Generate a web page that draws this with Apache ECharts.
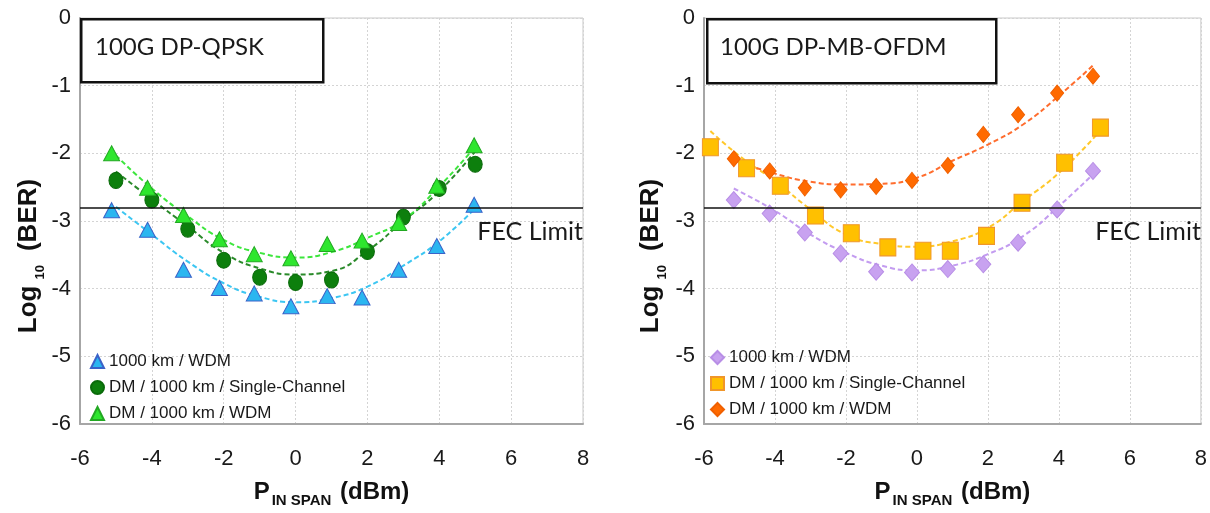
<!DOCTYPE html>
<html>
<head>
<meta charset="utf-8">
<script src="https://cdn.jsdelivr.net/npm/echarts@6/dist/echarts.min.js"></script>
<style>
html,body{margin:0;padding:0;background:#fff;}
#c{width:1210px;height:513px;}
</style>
</head>
<body>
<div id="c"></div>
<script>
// ---------- Data: left panel (100G DP-QPSK) ----------
const qpskWdmX   = [-5.12,-4.12,-3.12,-2.12,-1.15,-0.13,0.88,1.85,2.87,3.93,4.97];
const qpskWdmY   = [-2.84,-3.13,-3.72,-3.99,-4.07,-4.26,-4.11,-4.13,-3.72,-3.37,-2.76];
const qpskDmScX  = [-5,-4,-3,-2,-1,0,1,2,3,4,5];
const qpskDmScY  = [-2.40,-2.69,-3.12,-3.58,-3.83,-3.91,-3.87,-3.45,-2.94,-2.52,-2.16];
const qpskDmWdmX = [-5.12,-4.12,-3.12,-2.12,-1.15,-0.13,0.88,1.85,2.87,3.93,4.97];
const qpskDmWdmY = [-2.00,-2.51,-2.91,-3.27,-3.49,-3.55,-3.34,-3.29,-3.03,-2.48,-1.88];
// dashed trend lines
const qpskTrendX       = [-5,-4,-3,-2,-1,0,1,2,3,4,5];
const qpskWdmTrend     = [-2.79,-3.20,-3.60,-3.92,-4.12,-4.20,-4.14,-3.97,-3.66,-3.30,-2.81];
const qpskDmScTrend    = [-2.27,-2.68,-3.08,-3.47,-3.70,-3.79,-3.74,-3.44,-3.00,-2.56,-1.97];
const qpskDmWdmTrend   = [-2.03,-2.52,-2.93,-3.28,-3.47,-3.54,-3.46,-3.25,-2.98,-2.49,-1.90];

// ---------- Data: right panel (100G DP-MB-OFDM) ----------
const ofdmWdmX   = [-5.16,-4.15,-3.16,-2.15,-1.15,-0.14,0.87,1.87,2.85,3.95,4.96];
const ofdmWdmY   = [-2.69,-2.89,-3.17,-3.48,-3.75,-3.76,-3.71,-3.64,-3.32,-2.83,-2.26];
const ofdmDmScX  = [-5.82,-4.80,-3.85,-2.86,-1.85,-0.82,0.17,0.94,1.96,2.96,4.16,5.17];
const ofdmDmScY  = [-1.91,-2.22,-2.48,-2.92,-3.18,-3.39,-3.44,-3.44,-3.22,-2.73,-2.14,-1.62];
const ofdmDmWdmX = [-5.16,-4.15,-3.16,-2.15,-1.15,-0.14,0.87,1.87,2.85,3.95,4.96];
const ofdmDmWdmY = [-2.08,-2.26,-2.51,-2.54,-2.49,-2.40,-2.18,-1.72,-1.43,-1.11,-0.86];
const ofdmWdmTrendX    = [-5.16,-4,-3,-2,-1,0,1,2,3,4,4.96];
const ofdmWdmTrend     = [-2.52,-2.85,-3.20,-3.47,-3.66,-3.73,-3.66,-3.49,-3.22,-2.78,-2.31];
const ofdmDmScTrendX   = [-5.82,-5,-4,-3,-2,-1,0,1,2,3,4,5.07];
const ofdmDmScTrend    = [-1.67,-2.04,-2.41,-2.83,-3.20,-3.34,-3.38,-3.30,-3.10,-2.70,-2.29,-1.72];
const ofdmDmWdmTrendX  = [-5.16,-4,-3,-2,-1,0,1,2,3,4,4.96];
const ofdmDmWdmTrend   = [-2.10,-2.30,-2.42,-2.46,-2.45,-2.36,-2.11,-1.87,-1.57,-1.15,-0.70];

// ---------- Labels ----------
const fecLimit = -2.8;
const fecLabel = 'FEC Limit';
const leftTitle = '100G DP-QPSK';
const rightTitle = '100G DP-MB-OFDM';
const nameWdm = '1000 km / WDM';
const nameDmSc = 'DM / 1000 km / Single-Channel';
const nameDmWdm = 'DM / 1000 km / WDM';
const ZW = '\u200B'; // distinguishes right-panel series names

const xMin = -6, xMax = 8, xStep = 2;
const yMin = -6, yMax = 0, yStep = 1;

const zip = (xs, ys) => xs.map((x, i) => [x, ys[i]]);

const tickFont = {fontFamily: 'Liberation Sans, Arial, sans-serif', fontSize: 22, color: '#1a1a1a'};

function xAxisCfg(gi) {
  return {
    type: 'value', gridIndex: gi, min: xMin, max: xMax, interval: xStep,
    axisLine: {show: true, onZero: false, lineStyle: {color: '#a6a6a6', width: 2}},
    axisTick: {show: false},
    splitLine: {show: true, lineStyle: {color: '#d4d4d4', type: [2, 2], width: 1}},
    axisLabel: Object.assign({margin: 24}, tickFont),
    name: '{p|P}{s|IN SPAN}{p| (dBm)}',
    nameLocation: 'middle', nameGap: 52,
    nameTextStyle: {
      rich: {
        p: {fontFamily: 'Liberation Sans, Arial, sans-serif', fontWeight: 'bold', fontSize: 24, color: '#111', verticalAlign: 'bottom', lineHeight: 28},
        s: {fontFamily: 'Liberation Sans, Arial, sans-serif', fontWeight: 'bold', fontSize: 15, color: '#111', verticalAlign: 'bottom', lineHeight: 22, padding: [0, 2, -4, 2]}
      }
    }
  };
}
function yAxisCfg(gi, gap) {
  return {
    type: 'value', gridIndex: gi, min: yMin, max: yMax, interval: yStep,
    axisLine: {show: true, onZero: false, lineStyle: {color: '#a6a6a6', width: 2}},
    axisTick: {show: false},
    splitLine: {show: true, lineStyle: {color: '#d4d4d4', type: [2, 2], width: 1}},
    axisLabel: Object.assign({margin: 9}, tickFont),
    name: '{p|Log}{s|10}{p|(BER)}',
    nameLocation: 'middle', nameGap: gap, nameRotate: 90,
    nameTextStyle: {
      padding: [0, 70, 0, 0],
      rich: {
        p: {fontFamily: 'Liberation Sans, Arial, sans-serif', fontWeight: 'bold', fontSize: 26, color: '#111', verticalAlign: 'bottom', lineHeight: 30},
        s: {fontFamily: 'Liberation Sans, Arial, sans-serif', fontWeight: 'bold', fontSize: 13, color: '#111', verticalAlign: 'bottom', lineHeight: 20, padding: [0, 14, -5, 6]}
      }
    }
  };
}

function trend(name, gi, xs, ys, color) {
  return {
    name: name, type: 'line', xAxisIndex: gi, yAxisIndex: gi,
    data: zip(xs, ys), smooth: 0.5, showSymbol: false, symbol: 'none', silent: true,
    lineStyle: {color: color, width: 2, type: [5, 3]}, z: 3
  };
}
function scatter(name, gi, xs, ys, symbol, size, fill, border) {
  return {
    name: name, type: 'scatter', xAxisIndex: gi, yAxisIndex: gi,
    data: zip(xs, ys), symbol: symbol, symbolSize: size,
    itemStyle: {color: fill, borderColor: border, borderWidth: 1, opacity: 1}, z: 4
  };
}
function fecLine(gi) {
  return {
    name: 'fec' + gi, type: 'line', xAxisIndex: gi, yAxisIndex: gi, data: [], silent: true,
    markLine: {
      silent: true, symbol: ['none', 'none'], animation: false,
      lineStyle: {color: '#111', width: 1.5, type: 'solid'},
      label: {show: true, position: 'insideEndBottom', formatter: fecLabel, distance: [0, 12],
              fontFamily: 'Lato, Open Sans, sans-serif', fontSize: 25, color: '#1a1a1a'},
      data: [{yAxis: fecLimit}]
    }
  };
}

const legendText = {fontFamily: 'Liberation Sans, Arial, sans-serif', fontSize: 17, color: '#1a1a1a'};

const chart = echarts.init(document.getElementById('c'), null, {renderer: 'canvas'});
chart.setOption({
  animation: false,
  backgroundColor: '#fff',
  grid: [
    {left: 80, right: 627, top: 18, bottom: 88, show: true, borderColor: '#c8c8c8', borderWidth: 1, backgroundColor: 'transparent'},
    {left: 704, right: 9, top: 18, bottom: 88, show: true, borderColor: '#c8c8c8', borderWidth: 1, backgroundColor: 'transparent'}
  ],
  xAxis: [xAxisCfg(0), xAxisCfg(1)],
  yAxis: [yAxisCfg(0, 38), yAxisCfg(1, 40)],
  legend: [
    {
      orient: 'vertical', left: 90, top: 353, itemGap: 9, itemWidth: 13, itemHeight: 13,
      textStyle: legendText, selectedMode: false, padding: 0,
      data: [
        {name: nameWdm, icon: 'triangle'},
        {name: nameDmSc, icon: 'circle'},
        {name: nameDmWdm, icon: 'triangle'}
      ]
    },
    {
      orient: 'vertical', left: 710, top: 349, itemGap: 9, itemWidth: 13, itemHeight: 13,
      textStyle: legendText, selectedMode: false, padding: 0,
      formatter: n => n.replace(ZW, ''),
      data: [
        {name: nameWdm + ZW, icon: 'diamond'},
        {name: nameDmSc + ZW, icon: 'rect'},
        {name: nameDmWdm + ZW, icon: 'diamond', itemWidth: 9}
      ]
    }
  ],
  graphic: [
    {type: 'rect', left: 80, top: 18, z: 100, shape: {width: 242, height: 63},
     style: {fill: '#fff', stroke: '#111', lineWidth: 2.5}},
    {type: 'text', left: 95, top: 35, z: 101,
     style: {text: leftTitle, fontFamily: 'Lato, Open Sans, sans-serif', fontSize: 24, fill: '#1a1a1a'}},
    {type: 'rect', left: 706, top: 18, z: 100, shape: {width: 289, height: 64},
     style: {fill: '#fff', stroke: '#111', lineWidth: 2.5}},
    {type: 'text', left: 720, top: 35, z: 101,
     style: {text: rightTitle, fontFamily: 'Lato, Open Sans, sans-serif', fontSize: 24, fill: '#1a1a1a'}}
  ],
  series: [
    trend('t1', 0, qpskTrendX, qpskWdmTrend, '#3cc6f2'),
    trend('t2', 0, qpskTrendX, qpskDmScTrend, '#2a8a2a'),
    trend('t3', 0, qpskTrendX, qpskDmWdmTrend, '#3de63d'),
    fecLine(0),
    scatter(nameWdm, 0, qpskWdmX, qpskWdmY, 'triangle', [16, 15], '#2bb6f0', '#3a62c8'),
    scatter(nameDmSc, 0, qpskDmScX, qpskDmScY, 'circle', [14, 16], '#0d7f0d', '#0a6a0a'),
    scatter(nameDmWdm, 0, qpskDmWdmX, qpskDmWdmY, 'triangle', [16, 15], '#2ee62e', '#22a822'),

    trend('t4', 1, ofdmWdmTrendX, ofdmWdmTrend, '#c39cf0'),
    trend('t5', 1, ofdmDmScTrendX, ofdmDmScTrend, '#ffc82a'),
    trend('t6', 1, ofdmDmWdmTrendX, ofdmDmWdmTrend, '#ff6d2e'),
    fecLine(1),
    scatter(nameWdm + ZW, 1, ofdmWdmX, ofdmWdmY, 'diamond', [15, 17], '#c8a2f0', '#b88ee6'),
    scatter(nameDmSc + ZW, 1, ofdmDmScX, ofdmDmScY, 'rect', [16, 17], '#ffc000', '#f0962a'),
    scatter(nameDmWdm + ZW, 1, ofdmDmWdmX, ofdmDmWdmY, 'diamond', [13, 16], '#ff6a00', '#f06000')
  ]
});
</script>
</body>
</html>
